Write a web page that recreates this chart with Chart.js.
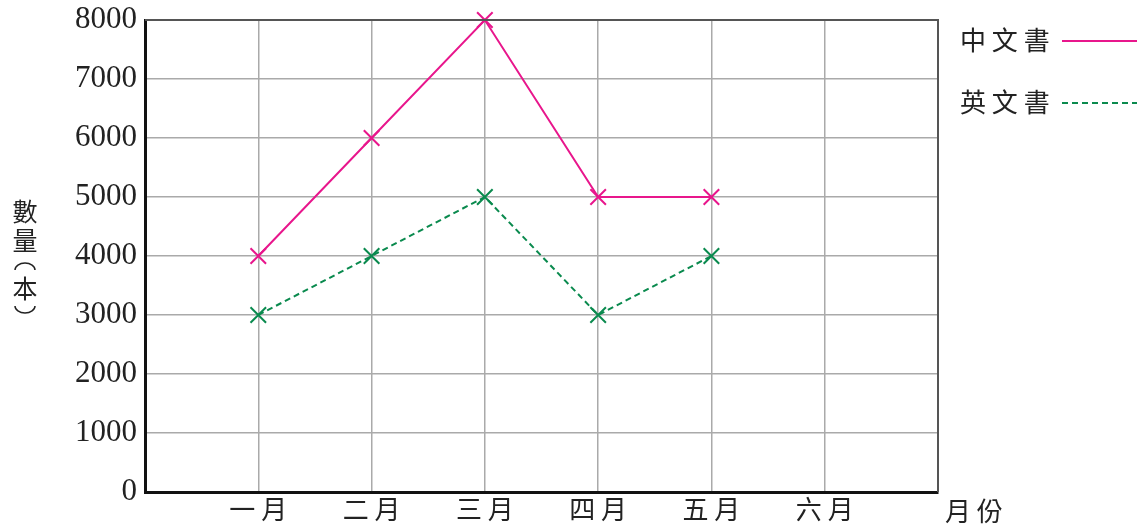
<html>

<head>
    <script src="https://cdn.jsdelivr.net/npm/chart.js"></script>
    <style>
        html, body { margin: 0; padding: 0; background: #fff; }
        #chart-container { width: 1137px; height: 525px; }
    </style>
</head>

<body>
    <div id="chart-container">
        <canvas id="book-chart"></canvas>
    </div>

    <script>
        const months = ['一月', '二月', '三月', '四月', '五月', '六月'];
        const chineseBooks = [4000, 6000, 8000, 5000, 5000];
        const englishBooks = [3000, 4000, 5000, 3000, 4000];
        const yTicks = [0, 1000, 2000, 3000, 4000, 5000, 6000, 7000, 8000];

        const pink = '#e8168c';
        const green = '#0a8a4e';
        const cjk = '"Noto Sans CJK TC", "Noto Sans CJK SC", serif';
        const numFont = '"Liberation Serif", "DejaVu Serif", serif';

        // month i sits at x = i + 1, the outer lines (0 and 7) are the frame
        const toPoints = arr => arr.map((v, i) => ({ x: i + 1, y: v }));

        const extras = {
            id: 'extras',
            afterDraw(chart) {
                const { ctx, chartArea: a } = chart;
                ctx.save();
                // top and right frame
                ctx.strokeStyle = '#555';
                ctx.lineWidth = 2;
                ctx.beginPath();
                ctx.moveTo(a.left, a.top);
                ctx.lineTo(a.right, a.top);
                ctx.lineTo(a.right, a.bottom);
                ctx.stroke();

                // legend
                ctx.font = '26px ' + cjk;
                ctx.textBaseline = 'middle';
                const legend = [
                    { label: '中 文 書', color: pink, dash: [], y: 40 },
                    { label: '英 文 書', color: green, dash: [6, 4], y: 102 }
                ];
                legend.forEach(l => {
                    ctx.fillStyle = '#222';
                    ctx.fillText(l.label, 960, l.y);
                    ctx.strokeStyle = l.color;
                    ctx.lineWidth = 2;
                    ctx.setLineDash(l.dash);
                    ctx.beginPath();
                    ctx.moveTo(1062, l.y + 1);
                    ctx.lineTo(1137, l.y + 1);
                    ctx.stroke();
                });
                ctx.setLineDash([]);

                // y title, stacked vertically, with upright brackets drawn as arcs
                ctx.fillStyle = '#222';
                ctx.font = '25px ' + cjk;
                ctx.textAlign = 'center';
                ctx.fillText('數', 25, 211);
                ctx.fillText('量', 25, 240);
                ctx.fillText('本', 25, 288);
                ctx.strokeStyle = '#222';
                ctx.lineWidth = 1.5;
                ctx.beginPath();
                ctx.ellipse(25, 270, 10, 7, 0, Math.PI, 2 * Math.PI);
                ctx.stroke();
                ctx.beginPath();
                ctx.ellipse(25, 306, 10, 7, 0, 0, Math.PI);
                ctx.stroke();

                // x title
                ctx.font = '26px ' + cjk;
                ctx.textAlign = 'left';
                ctx.fillText('月 份', 945, 511);
                ctx.restore();
            }
        };

        const ctx = document.getElementById('book-chart').getContext('2d');
        new Chart(ctx, {
            type: 'line',
            data: {
                datasets: [{
                    label: '中文書',
                    data: toPoints(chineseBooks),
                    borderColor: pink,
                    borderWidth: 2,
                    pointStyle: 'crossRot',
                    pointRadius: 11,
                    pointBorderWidth: 2,
                    pointBorderColor: pink,
                    tension: 0,
                    clip: false
                }, {
                    label: '英文書',
                    data: toPoints(englishBooks),
                    borderColor: green,
                    borderWidth: 2,
                    borderDash: [6, 4],
                    pointStyle: 'crossRot',
                    pointRadius: 11,
                    pointBorderWidth: 2,
                    pointBorderColor: green,
                    tension: 0,
                    clip: false
                }]
            },
            options: {
                responsive: true,
                maintainAspectRatio: false,
                animation: false,
                layout: { padding: { top: 0, right: 199, left: 0, bottom: 0 } },
                plugins: {
                    legend: { display: false },
                    tooltip: { enabled: false }
                },
                scales: {
                    x: {
                        type: 'linear',
                        min: 0,
                        max: 7,
                        afterFit(scale) { scale.height = 33; },
                        afterBuildTicks(scale) {
                            scale.ticks = [0, 1, 2, 3, 4, 5, 6, 7].map(v => ({ value: v }));
                        },
                        ticks: {
                            autoSkip: false,
                            maxRotation: 0,
                            padding: 2,
                            color: '#222',
                            font: { family: cjk, size: 26 },
                            callback: v => months[v - 1] ? months[v - 1].split('').join(' ') : ''
                        },
                        grid: { color: '#aaa', lineWidth: 1.5, drawTicks: false },
                        border: { color: '#111', width: 3 }
                    },
                    y: {
                        min: 0,
                        max: 8000,
                        afterFit(scale) {
                            scale.width = 145;
                            scale.paddingTop = 20;
                        },
                        afterBuildTicks(scale) {
                            scale.ticks = yTicks.map(v => ({ value: v }));
                        },
                        ticks: {
                            padding: 8,
                            color: '#222',
                            font: { family: numFont, size: 31 },
                            callback: v => String(v)
                        },
                        grid: { color: '#aaa', lineWidth: 1.5, drawTicks: false },
                        border: { color: '#111', width: 3 }
                    }
                }
            },
            plugins: [extras]
        });
    </script>
</body>

</html>
